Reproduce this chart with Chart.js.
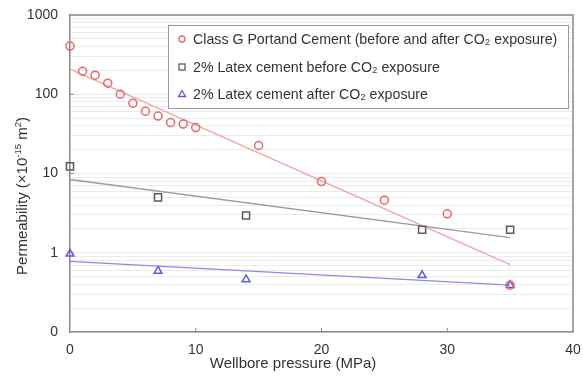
<!DOCTYPE html>
<html><head><meta charset="utf-8">
<script src="https://cdn.jsdelivr.net/npm/chart.js@4/dist/chart.umd.min.js"></script>
<style>html,body{margin:0;padding:0;background:#fff}#wrap{width:583px;height:382px}</style>
</head><body><div id="wrap"><canvas id="c" width="583" height="382"></canvas></div>
<script>
// ---- data ----
const portlandX = [0,1,2,3,4,5,6,7,8,9,10,15,20,25,30,35];
const portlandY = [405,195,174,138,100,77,61,53,44,42,38,22.6,7.9,4.6,3.1,0.39];
const latexBeforeX = [0,7,14,28,35];
const latexBeforeY = [12.3,5.0,2.95,1.95,1.95];
const latexAfterX = [0,7,14,28,35];
const latexAfterY = [0.97,0.59,0.46,0.52,0.39];
// fitted trend lines (end points)
const trendX = [0,35];
const portlandTrend = [207,0.71];
const latexBeforeTrend = [8.4,1.55];
const latexAfterTrend = [0.78,0.39];
const seriesNames = ['Class G Portand Cement (before and after CO\u2082 exposure)','2% Latex cement before CO\u2082 exposure','2% Latex cement after CO\u2082 exposure'];
const xTicks = [0,10,20,30,40];
const yMajorTicks = [0.1,1,10,100,1000];
const yTickLabels = ['0','1','10','100','1000'];
const xTitle = 'Wellbore pressure (MPa)';
// y title as [text, superscript?] pieces: "Permeability (×10^-15 m^2)"
const yTitleParts = [['Permeability (\u00d710',false],['-15',true],[' m',false],['2',true],[')',false]];

const RED='#e8676b', GRAY='#5a5a5a', BLUE='#5a5ae0';
const RED_L='#f2a3a5', GRAY_L='#9a9a9a', BLUE_L='#8a8aee';
const FONT='"Liberation Sans", Arial, sans-serif';

const pts = (xs, ys) => xs.map((x,i)=>({x, y: ys[i]}));

// minor tick values for log grid
const yAllTicks = [];
for (let d = 0; d < yMajorTicks.length - 1; d++) {
  for (let k = 1; k <= 9; k++) yAllTicks.push(+(yMajorTicks[d]*k).toPrecision(6));
}
yAllTicks.push(yMajorTicks[yMajorTicks.length-1]);

const decor = {
  id:'decor',
  afterDraw(chart){
    const ctx = chart.ctx, a = chart.chartArea, xs = chart.scales.x, ys = chart.scales.y;
    ctx.save();
    // top & right border
    ctx.strokeStyle='#8a8a8a'; ctx.lineWidth=1.5;
    ctx.beginPath(); ctx.moveTo(a.left,a.top); ctx.lineTo(a.right,a.top); ctx.lineTo(a.right,a.bottom); ctx.stroke();
    // inner ticks
    ctx.lineWidth=1;
    xTicks.slice(1,-1).forEach(v=>{const p=xs.getPixelForValue(v); ctx.beginPath(); ctx.moveTo(p,a.bottom); ctx.lineTo(p,a.bottom-4); ctx.stroke();});
    yMajorTicks.slice(1,-1).forEach(v=>{const p=ys.getPixelForValue(v); ctx.beginPath(); ctx.moveTo(a.left,p); ctx.lineTo(a.left+4,p); ctx.stroke();});
    // axis titles
    ctx.fillStyle='#333'; ctx.font='15px '+FONT; ctx.textAlign='center'; ctx.textBaseline='middle';
    ctx.fillText(xTitle, 293, 364);
    // y title with superscripts
    const mainF='15px '+FONT, supF='9.5px '+FONT;
    let total=0;
    yTitleParts.forEach(([t,s])=>{ctx.font=s?supF:mainF; total+=ctx.measureText(t).width;});
    ctx.translate(22,196); ctx.rotate(-Math.PI/2);
    ctx.textAlign='left'; ctx.textBaseline='alphabetic';
    let cx=-total/2;
    yTitleParts.forEach(([t,s])=>{ctx.font=s?supF:mainF; ctx.fillText(t,cx,s?-1:5); cx+=ctx.measureText(t).width;});
    ctx.restore();
    // legend
    ctx.save();
    const lx=168, ly=25, lw=400, lh=83;
    ctx.fillStyle='#fff'; ctx.fillRect(lx,ly,lw,lh);
    ctx.strokeStyle='#9a9a9a'; ctx.lineWidth=1; ctx.strokeRect(lx+0.5,ly+0.5,lw,lh);
    ctx.font='14.2px '+FONT; ctx.textBaseline='middle'; ctx.textAlign='left'; ctx.fillStyle='#333';
    const rows=[39,67,94];
    rows.forEach((y,i)=>{
      const mx=182;
      ctx.lineWidth=1.3;
      if(i===0){ctx.strokeStyle=RED; ctx.beginPath(); ctx.arc(mx,y,3,0,Math.PI*2); ctx.stroke();}
      if(i===1){ctx.strokeStyle=GRAY; ctx.strokeRect(mx-3,y-3,6,6);}
      if(i===2){ctx.strokeStyle=BLUE; ctx.beginPath(); ctx.moveTo(mx,y-3.5); ctx.lineTo(mx+3.5,y+2.5); ctx.lineTo(mx-3.5,y+2.5); ctx.closePath(); ctx.stroke();}
      ctx.fillStyle='#333'; ctx.fillText(seriesNames[i], 193, y+1);
    });
    ctx.restore();
  }
};

new Chart(document.getElementById('c'), {
  type:'scatter',
  data:{datasets:[
    {label:'t1', data:pts(trendX,portlandTrend), showLine:true, borderColor:RED_L, borderWidth:1.3, pointRadius:0, order:5, clip:false},
    {label:'t2', data:pts(trendX,latexBeforeTrend), showLine:true, borderColor:GRAY_L, borderWidth:1.3, pointRadius:0, order:5, clip:false},
    {label:'t3', data:pts(trendX,latexAfterTrend), showLine:true, borderColor:BLUE_L, borderWidth:1.3, pointRadius:0, order:5, clip:false},
    {label:seriesNames[0], data:pts(portlandX,portlandY), pointStyle:'circle', pointRadius:4, borderColor:RED, backgroundColor:'rgba(0,0,0,0)', pointBorderWidth:1.5, order:1, clip:false},
    {label:seriesNames[1], data:pts(latexBeforeX,latexBeforeY), pointStyle:'rect', pointRadius:5, borderColor:GRAY, backgroundColor:'rgba(0,0,0,0)', pointBorderWidth:1.5, order:1, clip:false},
    {label:seriesNames[2], data:pts(latexAfterX,latexAfterY), pointStyle:'triangle', pointRadius:4.5, borderColor:BLUE, backgroundColor:'rgba(0,0,0,0)', pointBorderWidth:1.5, order:1, clip:false}
  ]},
  options:{
    responsive:false, animation:false, devicePixelRatio:1,
    layout:{padding:{left:0,right:10,top:15,bottom:0}},
    plugins:{legend:{display:false}, tooltip:{enabled:false}},
    scales:{
      x:{type:'linear', min:0, max:40,
        afterBuildTicks:s=>{s.ticks=xTicks.map(v=>({value:v}));},
        afterFit:s=>{s.height=50; s.paddingLeft=0; s.paddingRight=0;},
        grid:{display:false, drawTicks:false},
        border:{color:'#8a8a8a', width:1.5},
        ticks:{color:'#333', font:{family:FONT,size:14}, padding:10}
      },
      y:{type:'logarithmic', min:0.1, max:1000,
        afterBuildTicks:s=>{s.ticks=yAllTicks.map(v=>({value:v}));},
        afterFit:s=>{s.width=70; s.paddingTop=0; s.paddingBottom=0;},
        grid:{color:'#ebebeb', lineWidth:1, drawTicks:false},
        border:{color:'#8a8a8a', width:1.5},
        ticks:{color:'#333', font:{family:FONT,size:14}, padding:12, autoSkip:false,
          callback:(v)=>{const i=yMajorTicks.findIndex(m=>Math.abs(m-v)<1e-9*Math.max(1,m)); return i>=0?yTickLabels[i]:'';}}
      }
    }
  },
  plugins:[decor]
});
</script></body></html>
